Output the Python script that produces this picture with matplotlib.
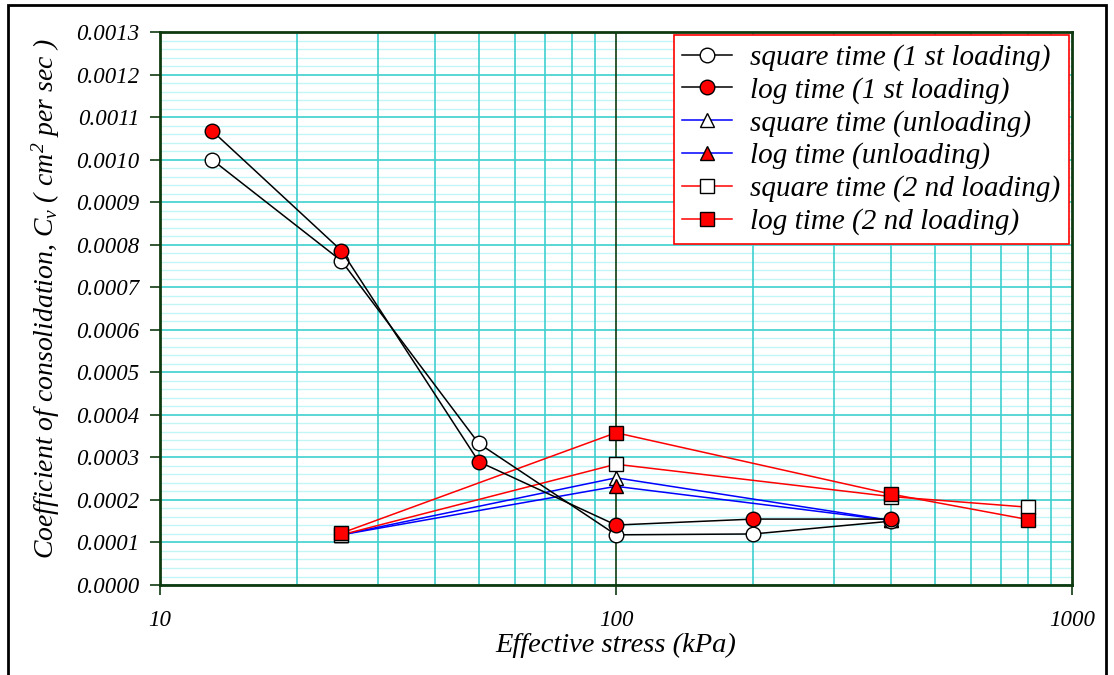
import matplotlib.pyplot as plt
from matplotlib.ticker import FixedLocator, FormatStrFormatter, NullFormatter
from matplotlib.patches import Rectangle

plt.rcParams['font.family'] = 'Liberation Serif'
plt.rcParams['font.style'] = 'italic'
plt.rcParams['mathtext.fontset'] = 'custom'
plt.rcParams['mathtext.rm'] = 'Liberation Serif:italic'
plt.rcParams['mathtext.it'] = 'Liberation Serif:italic'

# effective stress (kPa) and Cv (cm^2/sec)
stress_load1 = [13, 25, 50, 100, 200, 400]
cv_sqrt_load1 = [0.001000, 0.000762, 0.000333, 0.000118, 0.000120, 0.000150]
cv_log_load1 = [0.001068, 0.000786, 0.000290, 0.000141, 0.000155, 0.000155]

stress_unload = [400, 100, 25]
cv_sqrt_unload = [0.000152, 0.000252, 0.000118]
cv_log_unload = [0.000152, 0.000232, 0.000118]

stress_load2 = [25, 100, 400, 800]
cv_sqrt_load2 = [0.000118, 0.000284, 0.000208, 0.000183]
cv_log_load2 = [0.000122, 0.000358, 0.000214, 0.000154]

grid_c = '#3ecfcf'
minor_c = '#c2f5f5'
axis_c = '#0f3a10'

fig = plt.figure(figsize=(11.14, 6.75), dpi=100)
ax = fig.add_axes([0.1436, 0.1333, 0.8187, 0.8193])

# frame round the whole chart
fig.patches.append(Rectangle((8 / 1114, -0.01), 1098 / 1114, 1 - 5 / 675 + 0.01,
                             transform=fig.transFigure, fill=False,
                             edgecolor='black', linewidth=2))

ms = 10.5
lw = 1.1
ax.plot(stress_load1, cv_sqrt_load1, '-o', color='black', lw=lw, mfc='white', mec='black',
        ms=ms, label='square time (1 st loading)', zorder=5)
ax.plot(stress_load1, cv_log_load1, '-o', color='black', lw=lw, mfc='red', mec='black',
        ms=ms, label='log time (1 st loading)', zorder=5)
ax.plot(stress_unload, cv_sqrt_unload, '-^', color='blue', lw=lw, mfc='white', mec='black',
        ms=ms, label='square time (unloading)', zorder=4)
ax.plot(stress_unload, cv_log_unload, '-^', color='blue', lw=lw, mfc='red', mec='black',
        ms=ms, label='log time (unloading)', zorder=4)
ax.plot(stress_load2, cv_sqrt_load2, '-s', color='red', lw=lw, mfc='white', mec='black',
        ms=ms, label='square time (2 nd loading)', zorder=4)
ax.plot(stress_load2, cv_log_load2, '-s', color='red', lw=lw, mfc='red', mec='black',
        ms=ms, label='log time (2 nd loading)', zorder=4)

ax.set_xscale('log')
ax.set_xlim(10, 1000)
ax.set_ylim(0, 0.0013)

ax.xaxis.set_major_locator(FixedLocator([10, 100, 1000]))
ax.xaxis.set_minor_locator(FixedLocator([m * d for d in (10, 100) for m in range(2, 10)]))
ax.xaxis.set_major_formatter(FormatStrFormatter('%d'))
ax.xaxis.set_minor_formatter(NullFormatter())
ax.yaxis.set_major_locator(FixedLocator([i * 0.0001 for i in range(14)]))
ax.yaxis.set_minor_locator(FixedLocator([i * 0.00002 for i in range(66) if i % 5]))
ax.yaxis.set_major_formatter(FormatStrFormatter('%.4f'))

ax.set_axisbelow(True)
ax.grid(which='minor', axis='y', color=minor_c, lw=1.0)
ax.grid(which='major', axis='y', color=grid_c, lw=1.2)
ax.grid(which='minor', axis='x', color=grid_c, lw=1.2)
# vertical lines go on top of the horizontal ones
ax.yaxis.set_zorder(0.4)
ax.xaxis.set_zorder(0.6)
ax.axvline(100, color=axis_c, lw=1.2, zorder=2)

for s in ax.spines.values():
    s.set_color(axis_c)
    s.set_linewidth(2)

ax.tick_params(which='major', direction='out', length=7, width=1.2, color=axis_c,
               labelsize=16.5, pad=8)
ax.tick_params(axis='x', which='major', pad=11)
ax.tick_params(which='minor', length=0)

ax.set_xlabel('Effective stress (kPa)', fontsize=20.5, labelpad=1)
ax.set_ylabel(r'Coefficient of consolidation, $C_v$ ( $cm^2$ per sec )', fontsize=20)
ax.yaxis.set_label_coords(-0.107, 0.517)

leg = ax.legend(loc='upper right', fontsize=21, frameon=True, fancybox=False,
                framealpha=1, edgecolor='red', borderaxespad=0.12, handlelength=1.7,
                handletextpad=0.6, labelspacing=0.2, borderpad=0.3)
leg.get_frame().set_linewidth(1.2)
leg.set_zorder(10)

fig.savefig('out.png', dpi=100)
